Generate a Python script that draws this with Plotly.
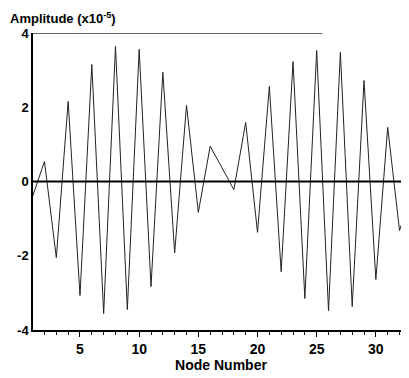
import plotly.graph_objects as go

nodes = list(range(1, 34))
amplitude = [-0.40, 0.54, -2.05, 2.16, -3.07, 3.15, -3.56, 3.64, -3.45, 3.56,
             -2.83, 2.94, -1.92, 2.05, -0.83, 0.95, 0.37, -0.22, 1.59, -1.37,
             2.56, -2.43, 3.23, -3.15, 3.53, -3.48, 3.48, -3.37, 2.72, -2.64,
             1.46, -1.32, -0.33]
y_ticks = [-4, -2, 0, 2, 4]
x_ticks = [5, 10, 15, 20, 25, 30]

FAM = "Liberation Sans, Arial, sans-serif"

fig = go.Figure()
fig.add_trace(go.Scatter(x=nodes, y=amplitude, mode="lines",
                         line=dict(color="#222222", width=1), hoverinfo="skip"))

fig.add_hline(y=0, line=dict(color="black", width=2))
fig.add_shape(type="line", xref="x", yref="y", x0=1, x1=25.5, y0=4, y1=4,
              line=dict(color="#333333", width=1.5))

fig.update_layout(
    width=409, height=378,
    margin=dict(l=25, r=8, t=25, b=56),
    paper_bgcolor="white", plot_bgcolor="white",
    showlegend=False,
    font=dict(family=FAM, size=12, color="black"),
    annotations=[
        dict(text="<b>Amplitude (x10<sup>-5</sup>)</b>", xref="paper", yref="paper",
             x=-0.066, y=1.084, xanchor="left", yanchor="top", showarrow=False,
             font=dict(family=FAM, size=13, color="black")),
    ],
)
fig.update_xaxes(
    range=[1.03, 32.8], showgrid=False, zeroline=False,
    showline=True, linecolor="black", linewidth=1.5,
    tickvals=x_ticks, ticktext=[f"<b>{v}</b>" for v in x_ticks],
    ticks="outside", ticklen=5, tickwidth=1, tickcolor="black",
    minor=dict(dtick=1, tick0=0, ticks="outside", ticklen=3, tickcolor="black", showgrid=False),
    title=dict(text="<b>Node Number</b>", standoff=4, font=dict(family=FAM, size=14)),
    tickfont=dict(family=FAM, size=14),
)
fig.update_yaxes(
    range=[-4, 4], showgrid=False, zeroline=False,
    showline=True, linecolor="black", linewidth=1.5,
    tickvals=y_ticks, ticktext=[f"<b>{v}</b>" for v in y_ticks],
    ticks="", tickfont=dict(family=FAM, size=13),
)

fig.write_html("out.html")
